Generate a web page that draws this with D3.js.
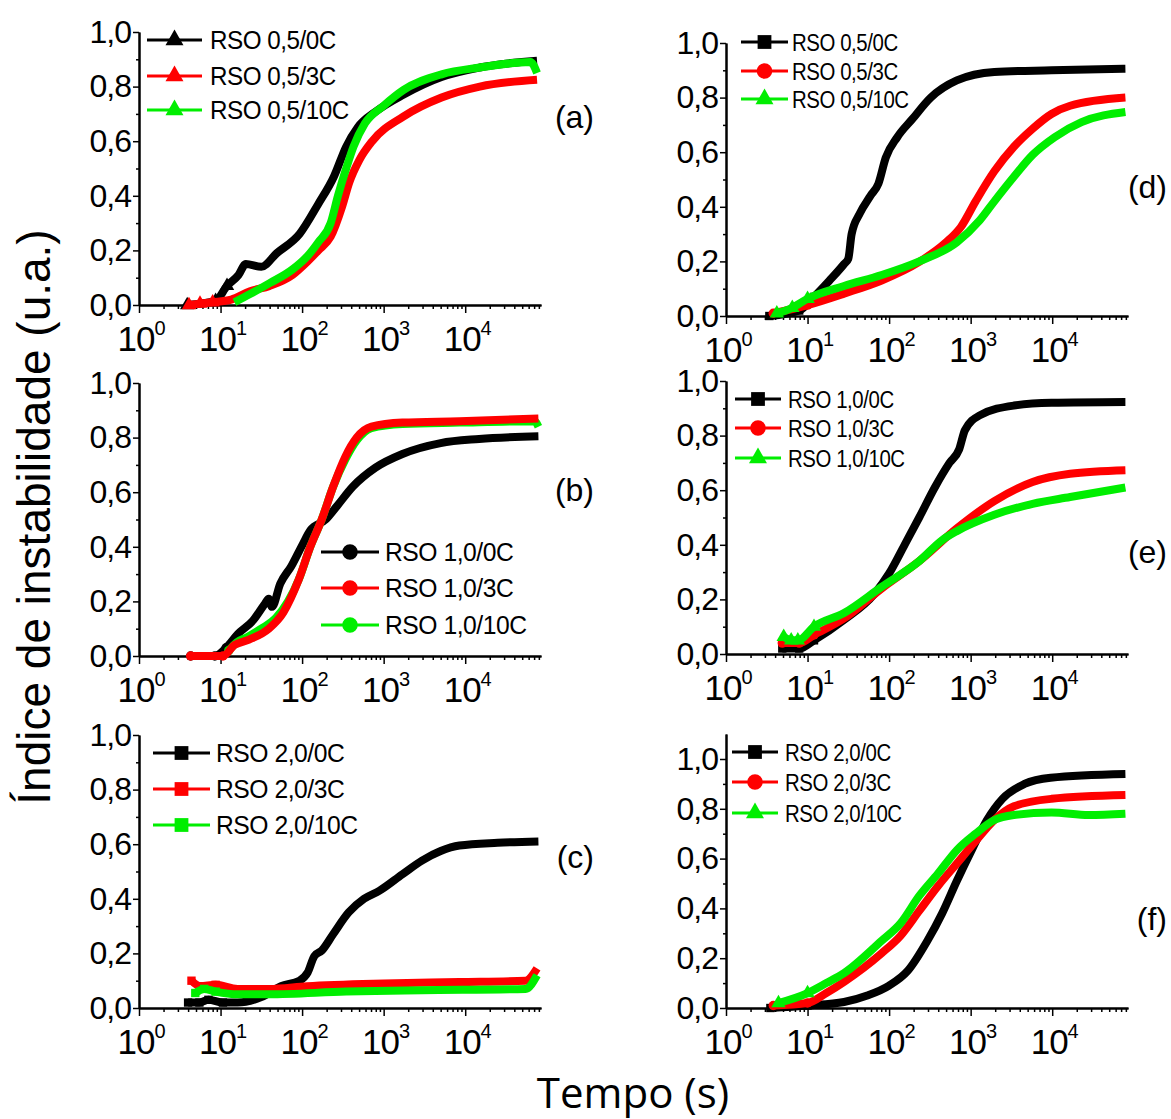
<!DOCTYPE html>
<html>
<head>
<meta charset="utf-8">
<script src="https://cdn.jsdelivr.net/npm/d3@7"></script>
<style>
  body { margin: 0; background: #fff; }
  svg { display: block; }
</style>
</head>
<body>
<svg id="chart" width="1171" height="1119"></svg>
<script>
// Tempo (s) vs Indice de instabilidade: [t, valor]
// (a) RSO 0,5
const a0C = [[3.9,0],[8.7,0.015],[12,0.07],[16.6,0.11],[20.4,0.15],[31.6,0.14],[49,0.19],[93,0.26],[158,0.37],[245,0.47],[347,0.58],[479,0.65],[813,0.71],[1740,0.77],[5130,0.835],[15100,0.87],[76000,0.895]];
const a3C = [[4.1,0],[5.6,0.005],[8,0.01],[13.5,0.02],[23,0.05],[40,0.07],[76,0.11],[117,0.16],[158,0.2],[224,0.25],[309,0.36],[380,0.45],[501,0.53],[724,0.6],[1740,0.69],[5130,0.76],[15100,0.8],[76000,0.825]];
const a10C = [[14.8,0.01],[23,0.04],[40,0.08],[76,0.13],[117,0.18],[158,0.23],[224,0.3],[275,0.4],[347,0.5],[427,0.58],[589,0.665],[1000,0.73],[1740,0.787],[5130,0.845],[15100,0.87],[63000,0.89],[76000,0.85]];
// (b) RSO 1,0
const b0C = [[4.3,0],[8.5,0],[11.7,0.03],[16.2,0.08],[25,0.13],[34.7,0.19],[39,0.21],[42.7,0.18],[54,0.265],[74,0.33],[102,0.41],[126,0.46],[195,0.5],[269,0.55],[417,0.62],[794,0.69],[1700,0.74],[5000,0.78],[14800,0.795],[79000,0.805]];
const b3C = [[4.3,0],[10.7,0],[14.8,0.04],[22.4,0.06],[39,0.1],[59,0.16],[91,0.28],[126,0.4],[174,0.5],[240,0.62],[339,0.73],[468,0.8],[708,0.84],[1700,0.855],[8500,0.86],[79000,0.87]];
const b10C = [[12.6,0.02],[15.8,0.05],[21.4,0.07],[31.6,0.1],[48,0.14],[91,0.28],[126,0.4],[174,0.5],[240,0.62],[339,0.72],[468,0.79],[708,0.835],[1700,0.85],[8500,0.855],[70800,0.86],[79000,0.84]];
// (c) RSO 2,0
const c0C = [[4,0.02],[5.5,0.02],[7.1,0.03],[10.7,0.02],[16.2,0.02],[31.6,0.04],[55,0.08],[93,0.1],[117,0.13],[141,0.19],[174,0.21],[240,0.27],[372,0.35],[575,0.4],[891,0.43],[1700,0.49],[2950,0.54],[5000,0.575],[8500,0.595],[25000,0.605],[79000,0.61]];
const c3C = [[4.4,0.1],[5.6,0.08],[8.7,0.085],[16.2,0.07],[39,0.07],[115,0.08],[1000,0.09],[8500,0.095],[55000,0.1],[76000,0.145]];
const c10C = [[4.9,0.055],[6.3,0.07],[8.7,0.06],[16.2,0.05],[39,0.05],[347,0.06],[2950,0.065],[55000,0.07],[76000,0.12]];
// (d) RSO 0,5
const d0C = [[3.4,0],[7.9,0.02],[12,0.07],[18.6,0.13],[28,0.19],[31.6,0.21],[34.7,0.3],[43.6,0.375],[59,0.44],[74,0.485],[91,0.58],[126,0.655],[191,0.72],[324,0.8],[676,0.863],[1950,0.894],[9800,0.9],[79000,0.906]];
const d3C = [[3.8,0.01],[10,0.04],[28,0.082],[81,0.13],[234,0.198],[501,0.27],[759,0.326],[1150,0.42],[1950,0.53],[3390,0.62],[5750,0.686],[9800,0.74],[16600,0.77],[79000,0.8]];
const d10C = [[4.2,0.01],[6.5,0.03],[10,0.063],[28,0.11],[81,0.15],[234,0.2],[676,0.27],[1290,0.35],[1950,0.42],[3390,0.51],[5750,0.59],[10700,0.655],[22900,0.71],[79000,0.747]];
// (e) RSO 1,0
const e0C = [[4.9,0.02],[7.9,0.02],[12,0.05],[28,0.125],[66,0.22],[100,0.295],[155,0.4],[234,0.5],[363,0.61],[550,0.7],[724,0.75],[851,0.82],[1290,0.874],[3390,0.91],[9800,0.92],[79000,0.923]];
const e3C = [[4.9,0.04],[7.9,0.04],[12,0.07],[28,0.13],[81,0.24],[234,0.34],[676,0.46],[1950,0.56],[5750,0.63],[16600,0.66],[79000,0.673]];
const e10C = [[5.1,0.063],[6.3,0.05],[7.6,0.05],[12,0.1],[28,0.15],[81,0.246],[234,0.34],[447,0.417],[676,0.45],[1950,0.51],[5750,0.55],[16600,0.575],[79000,0.61]];
// (f) RSO 2,0
const f0C = [[3.5,0],[10,0.01],[28,0.024],[54,0.05],[100,0.09],[170,0.15],[295,0.27],[447,0.38],[676,0.51],[1050,0.64],[1585,0.755],[2450,0.84],[4570,0.9],[9550,0.925],[79000,0.94]];
const f3C = [[3.8,0.01],[10,0.02],[17,0.06],[28,0.105],[81,0.22],[138,0.29],[234,0.39],[398,0.49],[676,0.58],[1150,0.67],[1950,0.755],[3390,0.81],[9800,0.84],[79000,0.855]];
const f10C = [[4.4,0.02],[10,0.06],[17,0.1],[28,0.14],[81,0.27],[138,0.34],[234,0.45],[398,0.54],[676,0.634],[1150,0.7],[1950,0.755],[3390,0.775],[9800,0.785],[28000,0.775],[79000,0.78]];

// legendas
const namesA = ["RSO 0,5/0C", "RSO 0,5/3C", "RSO 0,5/10C"];
const namesB = ["RSO 1,0/0C", "RSO 1,0/3C", "RSO 1,0/10C"];
const namesC = ["RSO 2,0/0C", "RSO 2,0/3C", "RSO 2,0/10C"];

// ticks
const majorX = [1, 10, 100, 1000, 10000];
const minorX = [2,3,4,5,6,7,8,9,20,30,40,50,60,70,80,90,200,300,400,500,600,700,800,900,
  2000,3000,4000,5000,6000,7000,8000,9000,20000,30000,40000,50000,60000,70000,80000];
const majorY = [0, 0.2, 0.4, 0.6, 0.8, 1.0];
const minorY = [0.1, 0.3, 0.5, 0.7, 0.9];
const xMax = 85000;

const colors = ["#000000", "#ff0000", "#00ee00"];
const fnt = "'Liberation Sans', Arial, sans-serif";
const tri = d3.symbolTriangle, cir = d3.symbolCircle, sq = d3.symbolSquare;

// paineis: posicao na pagina e legenda
const panels = [
  { lab: "(a)", left: 139, y0: 305, y1: 32, ymax: 1, data: [a0C, a3C, a10C], names: namesA,
    sym: [tri, tri, tri], order: [0, 1, 2], lx: 594, ly: 128,
    leg: { x0: 147, x1: 202, xt: 210, rows: [40, 76, 110], fs: 25, sx: 0.97 } },
  { lab: "(b)", left: 139, y0: 656, y1: 383, ymax: 1, data: [b0C, b3C, b10C], names: namesB,
    sym: [cir, cir, cir], order: [0, 2, 1], lx: 594, ly: 501,
    leg: { x0: 321, x1: 379, xt: 385, rows: [552, 588, 625], fs: 26, sx: 0.95 } },
  { lab: "(c)", left: 139, y0: 1008, y1: 735, ymax: 1, data: [c0C, c3C, c10C], names: namesC,
    sym: [sq, sq, sq], order: [0, 1, 2], lx: 594, ly: 868,
    leg: { x0: 153, x1: 210, xt: 216, rows: [753, 789, 825], fs: 26, sx: 0.95 } },
  { lab: "(d)", left: 726, y0: 316, y1: 43, ymax: 1, data: [d0C, d3C, d10C], names: namesA,
    sym: [sq, cir, tri], order: [0, 1, 2], lx: 1167, ly: 198,
    leg: { x0: 741, x1: 788, xt: 792, rows: [42, 71, 99], fs: 24, sx: 0.85 } },
  { lab: "(e)", left: 726, y0: 654, y1: 381, ymax: 1, data: [e0C, e3C, e10C], names: namesB,
    sym: [sq, cir, tri], order: [0, 1, 2], lx: 1167, ly: 563,
    leg: { x0: 735, x1: 781, xt: 788, rows: [399, 428, 458], fs: 24, sx: 0.85 } },
  { lab: "(f)", left: 726, y0: 1008, y1: 759, ymax: 1.1, data: [f0C, f3C, f10C], names: namesC,
    sym: [sq, cir, tri], order: [0, 1, 2], lx: 1167, ly: 930,
    leg: { x0: 732, x1: 778, xt: 785, rows: [752, 782, 813], fs: 24, sx: 0.85 } }
];

const svg = d3.select("#chart");
const fmt = (d) => d3.format(".1f")(d).replace(".", ",");

panels.forEach((p) => {
  const g = svg.append("g");
  const x = d3.scaleLog().domain([1, xMax]).range([p.left, p.left + 402]);
  const y = d3.scaleLinear().domain([0, p.ymax]).range([p.y0, p.y0 - (p.y0 - p.y1) * p.ymax]);

  // eixos x
  g.append("g").attr("transform", `translate(0,${p.y0})`)
    .call(d3.axisBottom(x).tickValues(minorX).tickSize(4).tickSizeOuter(0).tickFormat(""));
  g.append("g").attr("transform", `translate(0,${p.y0})`)
    .call(d3.axisBottom(x).tickValues(majorX).tickSize(8).tickSizeOuter(0).tickFormat(""));

  // eixos y
  g.append("g").attr("transform", `translate(${p.left},0)`)
    .call(d3.axisLeft(y).tickValues(minorY).tickSize(3).tickSizeOuter(0).tickFormat(""));
  g.append("g").attr("class", "yax").attr("transform", `translate(${p.left},0)`)
    .call(d3.axisLeft(y).tickValues(majorY).tickSize(6).tickPadding(2).tickSizeOuter(0).tickFormat(fmt));

  g.selectAll(".domain").attr("stroke", "#000").attr("stroke-width", 2);
  g.selectAll(".tick line").attr("stroke", "#000").attr("stroke-width", 1.5);
  g.selectAll(".yax text").style("font-family", fnt).style("font-size", "32px")
    .style("letter-spacing", "-1px").attr("fill", "#000");

  // rotulos 10^n
  majorX.forEach((v) => {
    const t = g.append("text")
      .attr("x", x(v) + 2).attr("y", p.y0 + 46)
      .attr("text-anchor", "middle")
      .style("font-family", fnt).style("font-size", "35px")
      .style("letter-spacing", "-1px");
    t.append("tspan").text("10");
    t.append("tspan").attr("dy", -16).style("font-size", "20px").text(Math.round(Math.log10(v)));
  });

  // curvas
  const line = d3.line().x((d) => x(d[0])).y((d) => y(d[1])).curve(d3.curveMonotoneX);
  p.order.forEach((i) => {
    g.append("path").datum(p.data[i])
      .attr("fill", "none").attr("stroke", colors[i])
      .attr("stroke-width", 8).attr("stroke-linejoin", "round")
      .attr("d", line);
    // marcadores nos primeiros pontos (mais espacados)
    g.selectAll(null).data(p.data[i].filter((d) => d[0] < 13)).enter()
      .append("path")
      .attr("transform", (d) => `translate(${x(d[0])},${y(d[1])})`)
      .attr("d", d3.symbol().type(p.sym[i]).size(p.sym[i] === tri ? 90 : 70))
      .attr("fill", colors[i]);
  });

  // legenda
  p.names.forEach((name, i) => {
    const ry = p.leg.rows[i];
    g.append("line").attr("x1", p.leg.x0).attr("x2", p.leg.x1).attr("y1", ry).attr("y2", ry)
      .attr("stroke", colors[i]).attr("stroke-width", 3);
    g.append("path")
      .attr("transform", `translate(${(p.leg.x0 + p.leg.x1) / 2},${ry})`)
      .attr("d", d3.symbol().type(p.sym[i]).size(p.sym[i] === tri ? 140 : 190))
      .attr("fill", colors[i]);
    g.append("text")
      .attr("transform", `translate(${p.leg.xt},${ry + p.leg.fs * 0.36}) scale(${p.leg.sx},1)`)
      .style("font-family", fnt).style("font-size", p.leg.fs + "px")
      .style("letter-spacing", "-0.5px")
      .text(name);
  });

  // letra do painel
  g.append("text").attr("x", p.lx).attr("y", p.ly).attr("text-anchor", "end")
    .style("font-family", fnt).style("font-size", "32px").text(p.lab);
});

// titulos
svg.append("text")
  .attr("transform", "translate(50,517) rotate(-90)")
  .attr("text-anchor", "middle")
  .style("font-family", fnt).style("font-size", "46px")
  .text("Índice de instabilidade (u.a.)");

svg.append("text")
  .attr("x", 633).attr("y", 1108)
  .attr("text-anchor", "middle")
  .style("font-family", "'Open Sans', sans-serif").style("font-size", "42px")
  .text("Tempo (s)");
</script>
</body>
</html>
